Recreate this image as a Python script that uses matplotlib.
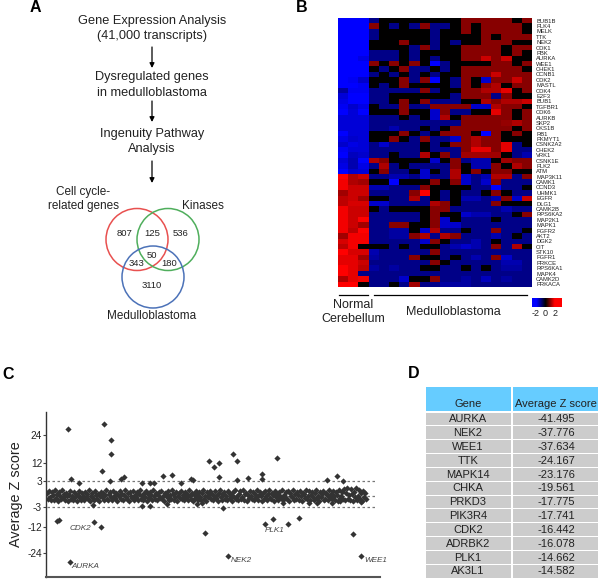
import numpy as np
import matplotlib
matplotlib.use("Agg")
import matplotlib.pyplot as plt
from matplotlib.colors import LinearSegmentedColormap
from matplotlib.patches import Circle, Rectangle

plt.rcParams['font.family'] = ['Liberation Sans', 'DejaVu Sans']

# panel A
venn_labels = ["807", "125", "536", "50", "343", "180", "3110"]
venn_x = [125, 152, 181, 152, 136, 169, 152]
venn_y = [233, 233, 233, 255, 264, 264, 286]

# panel B
genes = ["BUB1B", "PLK4", "MELK", "TTK", "NEK2", "CDK1", "PBK", "AURKA", "WEE1", "CHEK1",
         "CCNB1", "CDK2", "MASTL", "CDK4", "E2F3", "BUB1", "TGFBR1", "CDK6", "AURKB", "SKP2",
         "CKS1B", "RB1", "PKMYT1", "CSNK2A2", "CHEK2", "VRK1", "CSNK1E", "PLK2", "ATM", "MAP3K11",
         "CAMK1", "CCND3", "UHMK1", "EGFR", "DLG1", "CAMK2B", "RPS6KA2", "MAP2K1", "MAPK1", "FGFR2",
         "AKT2", "DGK2", "CIT", "STK10", "FGFR1", "PRKCE", "RPS6KA1", "MAPK4", "CAMK2D", "PRKACA"]

normal = [
    [-1.9, -2, -1.9], [-1.9, -2, -1.9], [-1.9, -1.9, -1.9], [-1.9, -1.9, -1.9], [-1.9, -1.9, -1.9],
    [-1.9, -1.9, -1.9], [-1.9, -1.9, -1.9], [-1.9, -1.9, -1.7], [-1.9, -1.9, -1.9], [-1.9, -1.9, -1.9],
    [-1.9, -1.9, -1.9], [-1.9, -1.8, -1.5], [-2, -1.9, -1.8], [-1.2, -1.8, -1.8], [-1.6, -2, -2],
    [-1.7, -2, -1.9], [-1.8, -1.5, -1.7], [-1.9, -1.6, -2], [-1.6, -1.6, -1.6], [-1.6, -1.6, -1.6],
    [-1.6, -1.6, -1.6], [-2, -1.6, -1.6], [-1.7, -1.5, -1.6], [-1.5, -1.7, -1.6], [-1.8, -1.6, -1.6],
    [-2, -1.4, -1.5], [-1.6, -1.3, -1.9], [-1.7, -1.3, -1.7], [-2, -1.5, -1.6], [2, 1.3, 1.5],
    [1.8, 1.3, 1.2], [1.8, 1.5, 1.5], [1.2, 1.5, 1.5], [1.4, 1.5, 1.2], [1.4, 1.6, 1.6],
    [1.8, 1.5, 1.5], [1.8, 1.5, 1.5], [1.8, 1.5, 1.9], [1.8, 1.5, 1.2], [1.8, 1.4, 1.9],
    [1.2, 1.8, 1.8], [1.6, 1.8, 1.8], [1.4, 1.8, 0], [1.9, 1.6, 1.6], [1.7, 1.7, 1.2],
    [1.7, 1.7, 1.5], [2, 1.7, 1.4], [2, 1.7, -1], [1.3, 1.7, 1.8], [1.9, 1.9, 0]]

tumour = [
    [-1, 0, 0, 0, 0, 0, 0, 0, 0, 1, 1, 1, 1, 1, 0, 1],
    [1, 0, -1, 0, -1, 1, -1, -1, 0, 1, 0, 1, 1, 1, 1, 0],
    [-1, 0, 0, 0, 0, 0, -1, 0, 0, 1, 0, 1, 1, 1, 1, 0],
    [-1, 0, 0, 0, 0, 0, -1, 0, 0, 0, 0, 1, 0, 1, 1, 1],
    [0, 0, 0, 1, 0, 0, -1, 0, -1, 0, 0, 1, 1, 1, 0, 0],
    [0, 0, 0, 0, -1, 1, -1, 0, 0, 1, 1, 1, 1, 0, 1, 1],
    [-1, -1, -1, 0, -1, 0, 0, 0, 0, 1, 1, 1, 1, 0, 1, 0],
    [-1, -1, -1, 0, -1, 0, -1, 0, 0, 1, 1, 1.5, 1, 1.5, 0, 0],
    [1, 0, 1, 0, 1, 0, -2, -1, 0, 0, 0, 0, 1, 1, 0, 1],
    [0, -1, 0, 1, -1, -1, 0, -1, 0, 1, 1, 1, 1, 1, 1, 0],
    [-1, 0, -1, 0, -1, 0, -1, 0, 0, 1, 1, 1, 1.5, 1, 1, 1],
    [0, 0, 0, 1, -1, 1, -2, 0, -1, 1, 0, -1.5, 1, 1, 1.5, 1],
    [0, -1, 0, 1, 0, 0, 0, 0, -1, 1, 0, 1, 1.3, 0, 1, 1],
    [-1, -1, -1, -1, -1, 1, -1, 0, 0, 1, 1, 1.3, 1.3, 1.7, 0, 1],
    [-1, -1, 0, 0, 0, 0, 0, 0, -1, 1, 1, 1, -1, 1, 0, 0],
    [-1, -1, 0, 1, 0, 1, -1, -1, -1, 0, 0, 1.3, 1, 1.3, 1.3, 1.5],
    [0, -1, -1, 1, -1, -1, 1, 1, 1, 1, -1.5, -1.5, 1.3, 1, 1, 0],
    [0, 0, 0, 1, 0, 0, -1.5, 1, -1, -1, 0, 0, 1.7, 1, 0, 1],
    [-1, -1, -1, 0, -1, 0, -1.5, 1.3, 0, 1, 1, 1, 1, 1, 0, 1],
    [-1, -1, -1, -1, -1, -1, -1, -1, -1, 1, 1, 1, 1, 1.1, 1.3, 1],
    [-1, -1, -1.3, -1, -1, 0, -1, 0, 1, 1, 1, 1, 1, 1, 0, 1],
    [0, 0, 0, 1, 0, -1, 0, 1, 1, 1, 0, -2, 1, 0, 1, 0],
    [0, 0, 1, 0, -1, 1, -1, -1, -1.5, 1, 1.3, 1, 1, 0, 0, 0],
    [-1, -1.5, -1, -1, -1, 0, -1, 0, 1, 1, 1.3, 1, 1, 1.7, -1, 0],
    [-1, -1, -1, -1, -1, 0, -1, -1, -1, 1, 1.7, 1.7, 1, 1.7, -1, -1],
    [-1, -1, 0, -1, -1, 1.3, 0, 1, -1, 1.2, 1.2, 1.2, 1.2, 0, -1, -1.3],
    [1.3, 1, 0, 0, 0, 0, -1.5, 0, 1, -1, -1.3, -1.3, 0, 1.2, 1, 1],
    [-1, 1.3, -1, 0, -1, -1, -1, -1, 1, 0, -1.3, -1.3, 1, 0, 1.3, 1],
    [0, 1, -1, -1, 0, -1.5, 0, -1, 1.3, 0, 1, 0, 1, 1, 0, 0],
    [-1, -1, -1.3, -1.3, -1, -1.5, -1, -1, 1.3, -1.5, -1, -1.3, 1.3, 1.3, -1, 1],
    [0, 0, -2, 0, 0, 0, 1, 0, 1, -1.5, -1, -1.5, 1, -1, -1, -1],
    [-1.3, -1.3, -1, -1, -1, 1, 0, 0, 0, 0, -1, -1, -2, -1, -1, 0],
    [-1, -1, -1, -1, 1, 2, 0, -1, 0, -1, -1, 0, 1, 0, -1, -1],
    [0, 0, -1, -1, 1.3, -1, 0, -1, 0, -1.3, -1.3, -1, -1.3, 1, -1.5, 1.5],
    [-1.5, -1.5, -1, -1, -1, -1, 1.3, 1, 0, -1, -1, -1, 1, 0, 0, 0],
    [0, -1, 0, 0, 0, 0, 1, 1, -1, -1, -1, -1, -1, -1.3, -1, -1],
    [-1, -1, -1, -1, -1, 0, 1, 0, 0, -1.5, -1.3, -1.3, -1, -1, 0, 1],
    [-1, -1, -1, -1, -1, 0, 1, -1.5, 0, -1, -1, -1, 0, -1, -1, -1],
    [-1, -1, 1, 1, 0, 0, 1, -1.5, -1.5, -1, -1, -1, -1, -1, -1, -1],
    [-1, -1, -1.2, -1.2, 0, -1.5, 1.3, -1, -1, 0, -1, -1, 1, -1, -1, 0],
    [-1, -1, -1.2, -1.2, 1, 1.3, -1, 1.3, 1, -1, -1, -1, -1.3, -1, 0, -1],
    [-1, -1, -1, -1, -1, -1.5, 1, 0, -1, -1, -1.3, -1, 0, -1, -1, -1],
    [0, 0, -1, 0, -1, 0, 0, -1, -1.3, -1.5, -1.3, -1, 1, -1, 1.3, 0],
    [-1.3, -1, -1, -1, -1, -1, 1, -1, -1, -1, -1, -1, -1, -1, -1, -1],
    [-1.2, -1, -1, -1, 1, 0, 0, -1, 0, -1, -1.3, -1, 1, -1.5, -1, -1],
    [-1, -1, -1, -1, -1, -1, 1, 0, -1, -1, -1, -1, -1, -1.3, -1.3, -1],
    [-1.2, -1, -1.2, -1, -1, 0, 0, -1, -1, 0, -1, 0, -1, -1.2, -1.2, -1],
    [-1, -1, -1, -1, -1, -1, -1, -1, -1, -1, -1, -1, -1, -1, -1, -1],
    [-1, -1, -1, -1.5, 0, 0, 1, -1, -1, -1.2, -1, -1.4, -1, -1.2, -1, -1],
    [-1, -1, 0, -1, 1.2, -1, -1, -1.2, -1.2, -1.2, -1, -1, -1, -1, -1, -1]]

# panel C, gene position and average z score
band_z = [
    0.6, -0.8, 1.1, -0.2, -1.2, 0.9, 0.2, -1.0, 1.3, -0.5, 0.4, -1.3, 0.8, 0.0, -0.9, 1.2, -0.3, 0.5, -1.2, 0.7,
    -0.1, -1.4, 0.3, 1.0, -0.7, 0.1, -1.1, 0.8, -0.4, 0.5, -1.3, 0.2, 1.1, -0.6, -1.0, 0.6, 0.0, -1.2, 0.9, -0.3,
    0.4, -0.9, 1.2, -1.4, 0.1, 0.7, -0.5, -1.1, 1.0, 0.3, -0.8, 0.5, -1.3, 0.0, 0.9, -0.4, 0.6, -1.0, 0.2, 1.3,
    -0.7, -1.2, 0.4, 0.8, -0.2, -1.0, 1.1, 0.1, -0.6, 0.7, -1.4, 0.3, -0.1, 1.0, -0.9, 0.5, -1.1, 0.2, 1.2, -0.4,
    -0.8, 0.6, -1.3, 0.9, 0.0, -0.5, 1.1, -1.0, 0.3, -0.2, 0.8, -1.2, 0.5, 1.3, -0.7, 0.1, -1.1, 0.7, -0.3, 1.0,
    -1.4, 0.4, -0.6, 0.9, 0.2, -1.0, 1.2, -0.1, -0.8, 0.6, -1.2, 0.3, 0.8, -0.5, 1.1, -0.9, 0.0, -1.3, 0.7, 0.4,
    -0.4, 1.0, -1.1, 0.2, -0.7, 1.3, 0.5, -1.0, -0.2, 0.9, -1.4, 0.1, 0.6, -0.6, 1.1, -0.9, 0.3, -1.2, 0.8, -0.3,
    0.5, -1.1, 1.2, 0.0, -0.8, 0.7, -1.3, 0.4, -0.5, 1.0, 0.2, -1.0, 0.9, -0.2, -1.2, 0.6, 1.3, -0.7, 0.1, -1.4,
    0.8, -0.4, 0.3, 1.1, -0.9, 0.5, -1.1, -0.1, 1.0, -0.6, 0.2, -1.3, 0.7, 1.2, -0.3, -1.0, 0.4, 0.9, -0.8, 0.0,
    -1.2, 1.1, 0.6, -0.5, 0.3, -1.4, 0.8, -0.2, 1.3, -0.9, 0.1, -1.1, 0.5, 1.0, -0.7, -0.3, 1.2, -1.0, 0.4, 0.7,
    -1.3, 0.2, -0.6, 1.1, 0.0, -0.8, 0.9, -1.2, 0.5, -0.4, 1.3, -1.0, 0.3, 0.8, -0.1, -1.4, 0.6, -0.7, 1.0, 0.1,
    -1.1, 0.4, 1.2, -0.5, -0.9, 0.7, 0.2, -1.3, 1.1, -0.2, 0.5, -1.0, 0.9, 0.0, -0.6, 1.3, -1.2, 0.3, -0.3, 0.8,
    -0.8, 1.0, -1.4, 0.6, 0.1, -0.4, 1.2, -1.1, 0.4, -0.7, 0.9, 0.2, -1.0, 1.1, -0.1, -1.3, 0.7, 0.5, -0.5, 1.3,
    -0.9, 0.0, 1.0, -1.2, 0.3, 0.8, -0.3, -1.1, 0.6, 1.2, -0.6, 0.1, -1.4, 0.9, -0.2, 0.4, 1.1, -1.0, -0.7, 0.7,
    0.2, -1.2, 1.3, -0.4, 0.5, -0.8, 1.0, 0.0, -1.1, 0.8, 0.3, -1.3, 1.2, -0.5, -0.1, 0.9, -0.9, 1.4, -1.2, 0.6,
    1.6, -0.7, 0.2, -1.0, 1.5, 0.4, -1.3, 0.9, -0.3, 1.7, -1.1, 0.1, 1.2, -0.8, 0.6, -1.4, 1.0, -0.2, 0.7, -0.9]
out_x = [21, 57, 64, 64, 55, 24, 63, 32, 74, 77, 95, 116, 125, 103, 107, 134, 144, 146,
         162, 167, 172, 186, 190, 172, 190, 201, 215, 230, 215, 280, 290, 296,
         10, 12, 47, 54, 23, 158, 306, 181, 314, 218, 226, 241, 252, 176,
         46, 95, 103, 120, 150, 155, 236, 262, 270, 285, 293, 314]
out_z = [26.6, 28.7, 21.9, 15.9, 8, 4, 3, 2.6, 4, 5, 2.6, 5.5, 6, 2.6, 2.6, 2.6, 4, 3.6,
         13, 10, 12, 15.9, 13, 5, 3.5, 4.5, 6.5, 14.1, 4, 3.5, 5.5, 3,
         -9.3, -8.9, -9.8, -12, -28.2, -14.8, -15.3, -25.4, -25.4, -10.6, -8.4, -10.6, -8, -3.5,
         -2.5, -2.7, -2.7, -2.2, -2.2, -1.9, -1.9, -1.9, -2, -1.9, -1.4, -1.6]
y_ticks = [-24, -12, -3, 3, 12, 24]
gene_notes = ["CDK2", "AURKA", "NEK2", "PLK1", "WEE1"]
note_x = [70, 71, 231, 265, 364]
note_y = [528, 567, 561, 531, 561]

# panel D
table_genes = ["AURKA", "NEK2", "WEE1", "TTK", "MAPK14", "CHKA", "PRKD3", "PIK3R4", "CDK2", "ADRBK2", "PLK1", "AK3L1"]
table_scores = ["-41.495", "-37.776", "-37.634", "-24.167", "-23.176", "-19.561", "-17.775", "-17.741", "-16.442",
                "-16.078", "-14.662", "-14.582"]

W, H = 600, 580
fig = plt.figure(figsize=(W / 100, H / 100), dpi=100)


def px_axes(x0, y0, x1, y1):
    # axes placed by picture pixels, y counted from the top
    return fig.add_axes([x0 / W, 1 - y1 / H, (x1 - x0) / W, (y1 - y0) / H])


bg = px_axes(0, 0, W, H)
bg.set_xlim(0, W)
bg.set_ylim(H, 0)
bg.axis('off')

for label, x, y in [("A", 30, 8), ("B", 296, 8), ("C", 2, 374.5), ("D", 408, 374)]:
    bg.text(x, y, label, fontsize=11.5, fontweight='bold', ha='left', va='center')

# flow chart
for line, y in [("Gene Expression Analysis", 21), ("(41,000 transcripts)", 36), ("Dysregulated genes", 77),
                ("in medulloblastoma", 93), ("Ingenuity Pathway", 134), ("Analysis", 149)]:
    bg.text(152, y, line, fontsize=9.2, ha='center', va='center', color='#222222')
for y0, y1 in [(47, 68), (101, 122), (161, 183)]:
    bg.annotate("", xy=(152, y1), xytext=(152, y0),
                arrowprops=dict(arrowstyle='-|>', color='black', lw=0.9, shrinkA=0, shrinkB=0, mutation_scale=7))

# venn
bg.add_patch(Circle((137, 239.5), 31, fill=False, ec='#E8504F', lw=1.1))
bg.add_patch(Circle((168, 239.5), 31, fill=False, ec='#4FAE5C', lw=1.1))
bg.add_patch(Circle((153, 277), 31, fill=False, ec='#4C72B8', lw=1.1))
for label, x, y in zip(venn_labels, venn_x, venn_y):
    bg.text(x, y, label, fontsize=6.8, ha='center', va='center', color='#222222')
bg.text(83, 192, "Cell cycle-", fontsize=8.5, ha='center', va='center', color='#222222')
bg.text(83, 206, "related genes", fontsize=8.5, ha='center', va='center', color='#222222')
bg.text(203, 206, "Kinases", fontsize=8.5, ha='center', va='center', color='#222222')
bg.text(152, 316, "Medulloblastoma", fontsize=8.5, ha='center', va='center', color='#222222')

# heatmap
cmap = LinearSegmentedColormap.from_list("bkr", ["#0000FF", "#000000", "#FF0000"])
heat = np.hstack([np.array(normal), np.array(tumour)])
ax = px_axes(338, 18, 532, 287)
ax.imshow(heat, cmap=cmap, vmin=-1.9, vmax=1.9, aspect='auto', interpolation='nearest')
ax.set_xticks([])
ax.set_yticks(range(len(genes)))
ax.set_yticklabels(genes, fontsize=4.2, color='#222222')
ax.yaxis.tick_right()
ax.tick_params(axis='y', length=0, pad=3)
for s in ax.spines.values():
    s.set_visible(False)

bg.plot([339, 368], [294.5, 294.5], color='black', lw=0.9)
bg.plot([374, 527], [294.5, 294.5], color='black', lw=0.9)
bg.text(353, 305, "Normal", fontsize=9, ha='center', va='center', color='#222222')
bg.text(353, 319, "Cerebellum", fontsize=9, ha='center', va='center', color='#222222')
bg.text(453, 312, "Medulloblastoma", fontsize=9, ha='center', va='center', color='#222222')

cax = px_axes(532, 298, 562, 307)
cax.imshow(np.linspace(-2.8, 3.4, 60).reshape(1, -1), cmap=cmap, vmin=-1.9, vmax=1.9, aspect='auto',
           extent=[-2.8, 3.4, 0, 1])
cax.set_yticks([])
cax.set_xticks([-2, 0, 2])
cax.set_xticklabels(["-2", "0", "2"], fontsize=6.5, color='#222222')
cax.tick_params(axis='x', length=0, pad=1.5)
for s in cax.spines.values():
    s.set_visible(False)

# scatter, y axis spacing is uneven in the original
knot_z = np.array([-35, -24, -12, -3, 0, 3, 12, 24, 34])
knot_px = np.array([577, 553, 527, 507, 496, 481, 463, 435, 412])


def to_px(z):
    return np.interp(z, knot_z, -knot_px)


def from_px(v):
    return np.interp(v, -knot_px, knot_z)


sc = px_axes(45.5, 412, 380, 577)
sc.set_yscale('function', functions=(to_px, from_px))
sc.set_ylim(-35, 34)
sc.set_xlim(-1.5, 333)
sc.set_facecolor('none')
for z in [3, 0, -3]:
    sc.plot([0, 330], [z, z], color='#777777', lw=0.9, ls=(0, (2, 2)), zorder=1)
sc.scatter(np.arange(len(band_z)), band_z, s=10, marker='D', color='#333333', linewidths=0, zorder=2)
sc.scatter(out_x, out_z, s=10, marker='D', color='#333333', linewidths=0, zorder=2)
sc.set_yticks(y_ticks)
sc.set_yticklabels([str(t) for t in y_ticks], fontsize=7.3, color='#222222')
sc.minorticks_off()
sc.set_xticks([])
sc.tick_params(axis='y', length=2, width=0.8, pad=0.5, color='#444444')
sc.spines['top'].set_visible(False)
sc.spines['right'].set_visible(False)
sc.spines['left'].set_color('#333333')
sc.spines['bottom'].set_color('#555555')
sc.spines['left'].set_linewidth(1)
sc.spines['bottom'].set_linewidth(1.5)
bg.text(16, 494, "Average Z score", fontsize=10.4, rotation=90, ha='center', va='center', color='#222222')
for name, x, y in zip(gene_notes, note_x, note_y):
    bg.text(x, y, name, fontsize=5.9, style='italic', ha='left', va='center', color='#444444')

# table
bg.add_patch(Rectangle((426, 387), 85, 24, fc='#66CCFF', ec='none'))
bg.add_patch(Rectangle((513, 387), 85, 24, fc='#66CCFF', ec='none'))
bg.text(468, 404, "Gene", fontsize=8, ha='center', va='center', color='#222222')
bg.text(556, 404, "Average Z score", fontsize=8, ha='center', va='center', color='#222222')
for i, (g, v) in enumerate(zip(table_genes, table_scores)):
    top = 412.5 + i * 13.85
    bg.add_patch(Rectangle((426, top), 85, 12.8, fc='#CCCCCC', ec='none'))
    bg.add_patch(Rectangle((513, top), 85, 12.8, fc='#CCCCCC', ec='none'))
    bg.text(468, top + 6.6, g, fontsize=8, ha='center', va='center', color='#222222')
    bg.text(556, top + 6.6, v, fontsize=8, ha='center', va='center', color='#222222')

fig.savefig("out.png", dpi=100)
